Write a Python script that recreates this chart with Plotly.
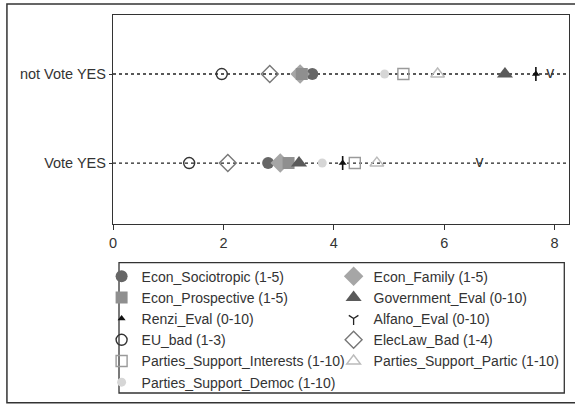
import plotly.graph_objects as go

rows = ["Vote YES", "not Vote YES"]
row_pos = [1, 2]

series = [
    "Econ_Sociotropic (1-5)", "Econ_Family (1-5)",
    "Econ_Prospective (1-5)", "Government_Eval (0-10)",
    "Renzi_Eval (0-10)", "Alfano_Eval (0-10)",
    "EU_bad (1-3)", "ElecLaw_Bad (1-4)",
    "Parties_Support_Interests (1-10)", "Parties_Support_Partic (1-10)",
    "Parties_Support_Democ (1-10)",
]
# values: [Vote YES, not Vote YES]
econ_sociotropic = [2.81, 3.61]
econ_family = [3.03, 3.39]
econ_prospective = [3.18, 3.42]
government_eval = [3.37, 7.10]
renzi_eval = [4.16, 7.66]
alfano_eval = [6.64, 7.92]
eu_bad = [1.38, 1.97]
eleclaw_bad = [2.08, 2.84]
parties_interests = [4.38, 5.26]
parties_partic = [4.78, 5.88]
parties_democ = [3.79, 4.92]

x_ticks = [0, 2, 4, 6, 8]
x_range = [0, 8.26]

values = [econ_sociotropic, econ_family, econ_prospective, government_eval,
          renzi_eval, alfano_eval, eu_bad, eleclaw_bad, parties_interests,
          parties_partic, parties_democ]

styles = [
    dict(symbol="circle", size=12, color="#666666"),
    dict(symbol="diamond", size=15, color="#a6a6a6"),
    dict(symbol="square", size=12, color="#8f8f8f"),
    dict(symbol="triangle-up", size=14, color="#5a5a5a"),
    dict(symbol="triangle-up", size=7, color="#111111"),
    dict(symbol="y-down-open", size=8, color="#222222", lw=1.3),
    dict(symbol="circle-open", size=11, color="#333333", lw=1.4),
    dict(symbol="diamond-open", size=13, color="#777777", lw=1.4),
    dict(symbol="square-open", size=11, color="#9a9a9a", lw=1.4),
    dict(symbol="triangle-up-open", size=12, color="#bbbbbb", lw=1.4),
    dict(symbol="circle", size=9, color="#d6d6d6"),
]

fig = go.Figure()

# dotted guide lines for each row
for yp in row_pos:
    fig.add_trace(go.Scatter(
        x=x_range, y=[yp, yp], mode="lines",
        line=dict(color="#222222", width=1.3, dash="dot"),
        showlegend=False, hoverinfo="skip"))

for name, vals, st in zip(series, values, styles):
    m = dict(symbol=st["symbol"], size=st["size"], color=st["color"],
             line=dict(color=st["color"], width=st.get("lw", 0)))
    if name.startswith("Renzi"):
        # stem of the arrow
        fig.add_trace(go.Scatter(
            x=vals, y=row_pos, mode="markers",
            marker=dict(symbol="line-ns", size=10, line=dict(color="#111111", width=1.6)),
            showlegend=False, hoverinfo="skip"))
    if name.startswith("Alfano"):
        # "v" glyph marks, plus a legend-only entry
        fig.add_trace(go.Scatter(
            x=vals, y=row_pos, mode="text", text=["v", "v"],
            textposition="middle center",
            textfont=dict(family="Liberation Sans, Arial, sans-serif", size=16, color="#333333"),
            showlegend=False, hoverinfo="skip"))
        fig.add_trace(go.Scatter(x=[None], y=[None], mode="markers", name=name, marker=m))
        continue
    fig.add_trace(go.Scatter(x=vals, y=row_pos, mode="markers", name=name, marker=m))

font = dict(family="Liberation Sans, Arial, sans-serif", size=14.5, color="#333333")
lfont = dict(family="Liberation Sans, Arial, sans-serif", size=14, color="#333333")

fig.update_layout(
    width=575, height=404,
    margin=dict(l=113, r=6, t=15, b=180, autoexpand=False),
    paper_bgcolor="white", plot_bgcolor="white",
    font=font,
    xaxis=dict(range=x_range, tickvals=x_ticks, ticks="outside", ticklen=5,
               tickcolor="#333333", showgrid=False, zeroline=False,
               showline=True, linecolor="#333333", linewidth=1.3, mirror=True),
    yaxis=dict(range=[0.315, 2.663], tickvals=row_pos, ticktext=rows,
               ticks="outside", ticklen=3, tickcolor="#333333",
               showgrid=False, zeroline=False,
               showline=True, linecolor="#333333", linewidth=1.3, mirror=True),
    legend=dict(orientation="h", x=-0.025, y=-0.175, xanchor="left", yanchor="top",
                entrywidth=187, entrywidthmode="pixels",
                bgcolor="rgba(0,0,0,0)", borderwidth=0, font=lfont),
    shapes=[
        dict(type="rect", xref="paper", yref="paper",
             x0=(119 - 113) / 455.7, x1=(564 - 113) / 455.7,
             y0=(224 - 393) / 209, y1=(224 - 262.7) / 209,
             line=dict(color="#333333", width=1.3)),
        dict(type="rect", xref="paper", yref="paper",
             x0=(7 - 113) / 455.7, x1=1.05,
             y0=(224 - 402.7) / 209, y1=(224 - 4) / 209,
             line=dict(color="#333333", width=1.5)),
    ],
)

fig.write_html("out.html", config={"displayModeBar": False},
               post_script="document.body.style.margin='0';")
